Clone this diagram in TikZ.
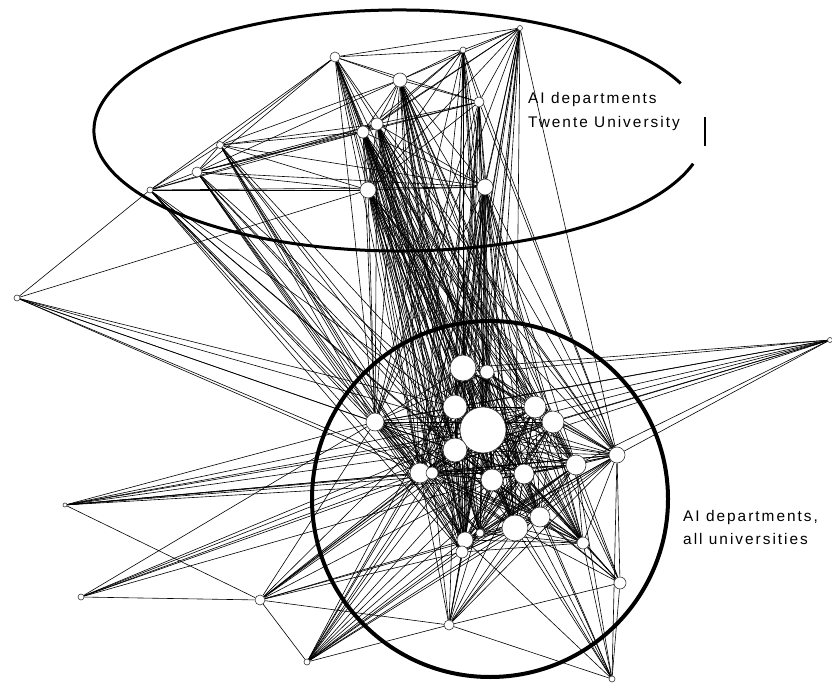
\documentclass[tikz,border=0pt]{standalone}
\usepackage{fontspec}
\usetikzlibrary{backgrounds}
\newfontfamily\labelfont[LetterSpace=13]{Liberation Sans}
\tikzset{
  net edge/.style={black,line width=.6pt},
  net node/.style={circle,draw=black!80,fill=white,inner sep=0pt,line width=.6pt},
  net ring/.style={black,line width=3pt},
  net label/.style={font=\labelfont\fontsize{15.4}{18}\selectfont,anchor=base west,inner sep=0pt}
}

\begin{document}
\begin{tikzpicture}[x=1pt,y=-1pt]
  \useasboundingbox (0,0) rectangle (832,684);
  % Twente group
  \foreach \n/\x/\y/\r in {ta/520/28/2.5,tb/335/57/5,tc/463/50/3,td/400/80/7,te/479/102/5,
      tf/377/124/6,tg/363/132/6,th/220/145/3.5,ti/197/172/5,tj/150/190/3,tk/368/190/8,tl/485/187/8}
    {\node[net node,minimum size=2*\r pt] (\n) at (\x,\y) {};}
  % central cluster
  \foreach \n/\x/\y/\r in {ca/463/368/13,cb/487/372/7,cc/455/407/12,cd/483/430/23,ce/535/407/11,
      cf/553/422/11,cg/375/422/9,ch/455/450/12,ci/420/473/10,cj/432/473/6,ck/492/480/11,
      cl/524/474/10,cm/576/465/10,cn/617/455/8,co/540/517/10,cp/515/528/13,cq/480/533/4,
      cr/465/540/8,cs/462/552/6,ct/583/543/6}
    {\node[net node,minimum size=2*\r pt] (\n) at (\x,\y) {};}
  % outer departments
  \foreach \n/\x/\y/\r in {oa/17/298/3,ob/830/340/2.5,oc/65/505/2,od/81/597/3,oe/260/600/5,
      of/307/662/3,og/449/625/5,oh/620/583/6,oi/612/679/3}
    {\node[net node,minimum size=2*\r pt] (\n) at (\x,\y) {};}

  \begin{pgfonlayer}{background}
    \foreach \a/\b in {tb/tc,tb/td,tb/th,tb/ti,tb/tj,tb/tf,tb/tg,tb/tk,tb/te,ta/tc,ta/td,ta/tf,
        ta/tg,ta/te,ta/tk,ta/tl,ta/tb,tc/td,tc/te,tc/tf,tc/tg,tc/tk,tc/tl,td/te,td/tf,td/tg,
        td/tk,td/tl,td/th,td/ti,te/tf,te/tg,te/tk,te/tl,te/ti,tf/tg,tf/tk,tf/tl,tf/th,tf/ti,
        tf/tj,tg/tk,tg/tl,tg/th,tg/ti,tg/tj,th/ti,th/tj,th/tk,th/tl,ti/tj,ti/tk,ti/tl,tj/tk,
        tj/tl,tk/tl}
      {\draw[net edge] (\a) -- (\b);}
    \foreach \a in {tf,tg,tk,tl,td}
      \foreach \b in {ca,cb,cc,cd,ce,cf,cg,ch,ci,cj,ck,cl,cm,cn,co,cp,cq,cr,cs,ct}
        {\draw[net edge] (\a) -- (\b);}
    \foreach \a in {ta,tb,tc,te}
      \foreach \b in {ca,cb,cc,cd,cg,ch,ci,ck,cp,cr,cn}
        {\draw[net edge] (\a) -- (\b);}
    \foreach \a in {th,ti,tj}
      \foreach \b in {cg,ch,ci,cj,cd,ck,cr,cs}
        {\draw[net edge] (\a) -- (\b);}
    \foreach \a [count=\i] in {ca,cb,cc,cd,ce,cf,cg,ch,ci,cj,ck,cl,cm,cn,co,cp,cq,cr,cs,ct}
      \foreach \b [count=\j] in {ca,cb,cc,cd,ce,cf,cg,ch,ci,cj,ck,cl,cm,cn,co,cp,cq,cr,cs,ct}
        {\ifnum\j>\i \draw[net edge] (\a) -- (\b); \fi}
    \foreach \a/\b in {oa/tj,oa/tk,oa/cg,oa/ch,oa/ci,oa/cd,oa/cc,oa/cj,
        ob/cg,ob/ca,ob/cc,ob/cd,ob/ce,ob/cf,ob/cn,ob/cm,ob/ci,ob/ch,ob/cb,
        oc/cg,oc/ci,oc/cj,oc/ch,oc/cd,oc/ce,oc/cn,oc/cm,oc/oe,oc/ck,oc/cf,
        od/oe,od/cg,od/ci,od/ch,od/cd,od/cj,od/ck,
        oe/of,oe/og,oe/cg,oe/ci,oe/cj,oe/ch,oe/cd,oe/cc,oe/ck,oe/cr,oe/cs,oe/cp,oe/ce,
        of/ci,of/cj,of/ch,of/cd,of/cc,of/ca,of/ck,of/cr,of/cs,of/cp,of/co,of/cl,of/og,of/ce,of/cm,
        og/oi,og/oh,og/ci,og/cj,og/ch,og/cd,og/ck,og/cp,og/co,og/cr,og/cs,og/cn,og/cm,og/cl,
        oh/cn,oh/cm,oh/cf,oh/ce,oh/cl,oh/ct,oh/co,oh/cp,oh/ck,oh/cd,oh/oi,
        oi/cp,oi/co,oi/ct,oi/cm,oi/cn,oi/ck,oi/cr,oi/cl,oi/cd}
      {\draw[net edge] (\a) -- (\b);}
  \end{pgfonlayer}

  % group outlines
  \draw[net ring] (399.5,130.5) ++(16:305.5 and 120.5)
    arc[start angle=16,end angle=337,x radius=305.5,y radius=120.5];
  \draw[black,line width=1.5pt] (705,117) -- (705,146);
  \draw[net ring,line width=4pt] (490,499) circle[radius=178];

  \node[net label] (twenteA) at (528,104) {AI departments};
  \node[net label] (twenteB) at (528,128) {Twente University};
  \node[net label] (allA) at (683,521) {AI departments,};
  \node[net label] (allB) at (683,544) {all universities};
\end{tikzpicture}
\end{document}
